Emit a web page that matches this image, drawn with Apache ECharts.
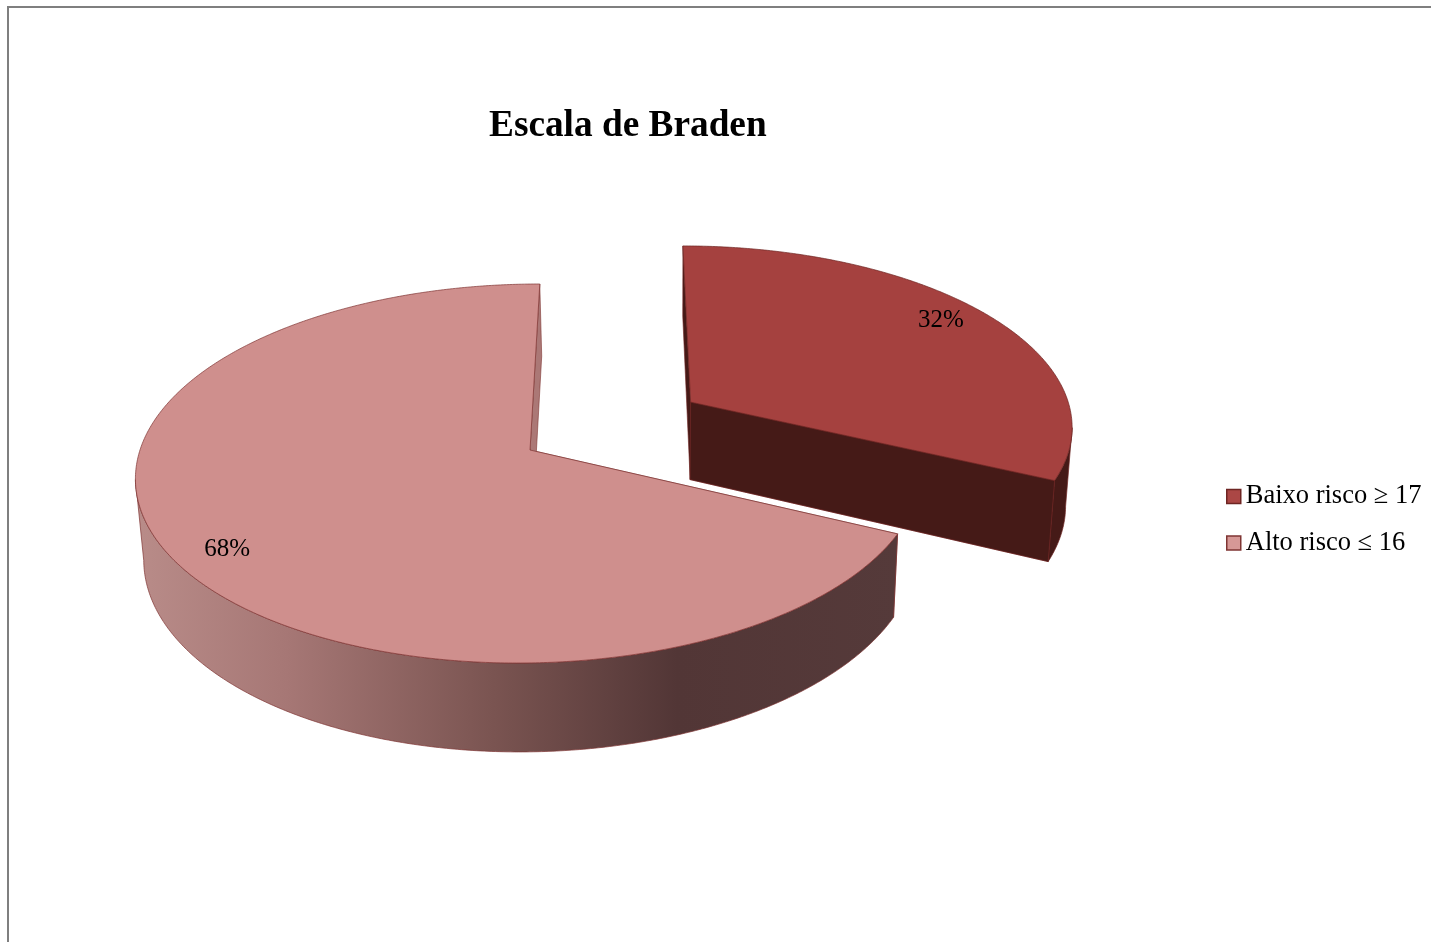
<!DOCTYPE html>
<html>
<head>
<meta charset="utf-8">
<style>html,body{margin:0;padding:0;background:#fff}#c{width:1431px;height:942px}</style>
<script src="https://cdn.jsdelivr.net/npm/echarts@6/dist/echarts.min.js"></script>
</head>
<body>
<div id="c"></div>
<script>
var chartTitle = 'Escala de Braden';
var categories = ['Baixo risco \u2265 17', 'Alto risco \u2264 16'];
var percentages = [32, 68];
var exploded = [0.495, 0];

var topColors = ['#a5413f', '#cf8f8d'];
var legendColors = ['#ab4745', '#d69896'];
var rimColors = ['#6e2523', '#7f3533'];
var radialWallColors = ['#451a17', '#ab7876'];
var outerWallFills = [
  '#451a17',
  [[0, '#b98c89'], [0.2, '#a67775'], [0.47, '#7a5451'], [0.71, '#523636'], [1, '#553a3a']]
];
var labelRadius = [0.85, 0.85];
var labelNudge = [[-3, -6], [-1, 9]];

// Perspective model of the pie plane (unit disc) onto the screen.
var view = { x0: 530, y0: 450, a: 390, b: 186.6, skew: -11, p: 0.124, q: 0.008, depth: 80.3, narrow: 0.008, drift: 2 };

function project(u, v, z) {
  var w = 1 - view.p * v + view.q * z;
  return [
    view.x0 + (view.a * (1 - view.narrow * z) * u + view.skew * v) / w + view.drift * z,
    view.y0 + (view.b * v + view.depth * z) / w
  ];
}
function rad(d) { return d * Math.PI / 180; }
function sliceGeom(i) {
  var total = percentages.reduce(function (s, x) { return s + x; }, 0);
  var before = percentages.slice(0, i).reduce(function (s, x) { return s + x; }, 0);
  var start = before / total * 360, end = (before + percentages[i]) / total * 360;
  var mid = rad((start + end) / 2);
  return { start: start, end: end, mid: mid,
    ou: exploded[i] * Math.sin(mid), ov: -exploded[i] * Math.cos(mid) };
}
function arcAngles(g) {
  var out = [], n = Math.ceil((g.end - g.start) * 2);
  for (var k = 0; k <= n; k++) out.push(g.start + (g.end - g.start) * k / n);
  return out;
}
function edgePoint(g, deg, r, z) {
  var t = rad(deg);
  return project(g.ou + r * Math.sin(t), g.ov - r * Math.cos(t), z);
}
function rim(g, angles, z) {
  return angles.map(function (d) { return edgePoint(g, d, 1, z); });
}
// Angles on the viewer's side: going clockwise, the front of the rim runs right to left.
function frontAngles(g) {
  var all = arcAngles(g), out = [];
  for (var k = 0; k < all.length - 1; k++) {
    if (edgePoint(g, all[k + 1], 1, 0)[0] < edgePoint(g, all[k], 1, 0)[0]) {
      if (!out.length) out.push(all[k]);
      out.push(all[k + 1]);
    }
  }
  return out;
}
function poly(points, fill, stroke, lw) {
  return { type: 'polygon', shape: { points: points },
    style: { fill: fill, stroke: stroke, lineWidth: lw, lineJoin: 'round' } };
}
function radialWall(g, deg, i) {
  return poly([edgePoint(g, deg, 0, 0), edgePoint(g, deg, 1, 0), edgePoint(g, deg, 1, 1), edgePoint(g, deg, 0, 1)],
    radialWallColors[i], rimColors[i], 0.6);
}
function renderSlice(i) {
  return function (params, api) {
    var g = sliceGeom(i), kids = [];
    var stroke = rimColors[i];
    var front = frontAngles(g);
    kids.push(radialWall(g, g.start, i));
    kids.push(radialWall(g, g.end, i));
    var fill = outerWallFills[i];
    if (Array.isArray(fill)) {
      fill = new echarts.graphic.LinearGradient(0, 0, 1, 0,
        fill.map(function (s) { return { offset: s[0], color: s[1] }; }));
    }
    kids.push(poly(rim(g, front, 0).concat(rim(g, front, 1).reverse()), fill, stroke, 0.7));
    if (exploded[i] > 0) kids.push(radialWall(g, g.end, i));
    var top = [edgePoint(g, g.start, 0, 0)].concat(rim(g, arcAngles(g), 0));
    kids.push(poly(top, topColors[i], stroke, 0.7));
    var lp = project(g.ou + labelRadius[i] * Math.sin(g.mid), g.ov - labelRadius[i] * Math.cos(g.mid), 0);
    kids.push({ type: 'text', z2: 10, style: {
      x: lp[0] + labelNudge[i][0], y: lp[1] + labelNudge[i][1],
      text: api.value(0) + '%', fill: '#000',
      font: '25px "Liberation Serif"', align: 'center', verticalAlign: 'middle' } });
    return { type: 'group', children: kids };
  };
}

var chart = echarts.init(document.getElementById('c'), null, { renderer: 'canvas' });
chart.setOption({
  animation: false,
  backgroundColor: '#ffffff',
  title: { text: chartTitle, left: 489, top: 108, padding: 0,
    textStyle: { fontFamily: 'Liberation Serif', fontWeight: 'bold', fontSize: 37.3, color: '#000' } },
  legend: {
    orient: 'vertical', left: 1226, top: 483, itemWidth: 14, itemHeight: 14, itemGap: 19.5,
    selectedMode: false, icon: 'rect', padding: 0,
    textStyle: { fontFamily: 'Liberation Serif', fontSize: 26.5, color: '#000', padding: [0, 0, 0, 0] },
    data: categories.map(function (n, i) {
      return { name: n, itemStyle: { color: legendColors[i], borderColor: rimColors[i], borderWidth: 1.5 } };
    })
  },
  graphic: [{ type: 'polyline', silent: true, shape: { points: [[8, 942], [8, 7], [1431, 7]] },
    style: { stroke: '#7f7f7f', lineWidth: 2, fill: null } }],
  series: categories.map(function (n, i) {
    return { type: 'custom', name: n, coordinateSystem: 'none', clip: false,
      itemStyle: { color: topColors[i] },
      renderItem: renderSlice(i), data: [[percentages[i]]] };
  })
});
</script>
</body>
</html>
